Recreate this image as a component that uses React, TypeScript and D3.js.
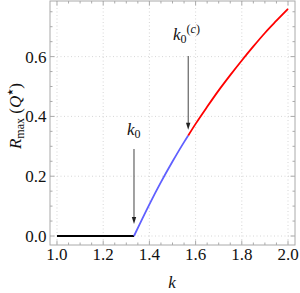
import React from 'react';
import * as d3 from 'd3';

// R_max(Q*)
const kFlat = [1.0, 1.3333];
const rFlat = [0, 0];
const kBlue = [1.3333, 1.4, 1.45, 1.5, 1.55, 1.568];
const rBlue = [0, 0.106, 0.18, 0.249, 0.314, 0.336];
const kRed = [1.568, 1.6, 1.65, 1.7, 1.75, 1.8, 1.85, 1.9, 1.95, 2.0];
const rRed = [0.336, 0.375, 0.432, 0.487, 0.538, 0.587, 0.634, 0.679, 0.72, 0.76];

const xTicks = [1.0, 1.2, 1.4, 1.6, 1.8, 2.0];
const yTicks = [0.0, 0.2, 0.4, 0.6];
const k0 = 1.3333;
const k0c = 1.568;

const W = 300;
const H = 293;
const frame = { left: 50, right: 295, top: 1, bottom: 245 };
const SERIF = 'Liberation Serif';

const zip = (xs: number[], ys: number[]) => xs.map((x, i) => [x, ys[i]] as [number, number]);

export default function App() {
  const x = d3.scaleLinear().domain([0.9697, 2.0303]).range([frame.left, frame.right]);
  const y = d3.scaleLinear().domain([-0.0301, 0.786]).range([frame.bottom, frame.top]);

  const line = d3
    .line<[number, number]>()
    .x((d) => x(d[0]))
    .y((d) => y(d[1]))
    .curve(d3.curveMonotoneX);

  const xMinor = d3.range(0.95, 2.051, 0.05).filter((v) => v >= 0.9697 && v <= 2.0303);
  const yMinor = d3.range(0, 0.7851, 0.05);

  const arrow = (kx: number, from: number, to: number, key: string) => {
    const px = x(kx);
    const y0 = y(from);
    const y1 = y(to);
    return (
      <g key={key}>
        <line x1={px} x2={px} y1={y0} y2={y1 - 5} stroke="#444" strokeWidth={1} />
        <path d={`M${px - 2.2},${y1 - 7} L${px + 2.2},${y1 - 7} L${px},${y1} Z`} fill="#222" />
      </g>
    );
  };

  return (
    <svg
      width={W}
      height={H}
      fontFamily={SERIF}
      style={{ position: 'absolute', left: 0, top: 0, background: '#fff' }}
    >
      {/* grid */}
      {xTicks.map((t) => (
        <line key={'gx' + t} x1={x(t)} x2={x(t)} y1={frame.top} y2={frame.bottom}
          stroke="#ccc" strokeWidth={0.8} strokeDasharray="1,2.5" />
      ))}
      {yTicks.map((t) => (
        <line key={'gy' + t} x1={frame.left} x2={frame.right} y1={y(t)} y2={y(t)}
          stroke="#ccc" strokeWidth={0.8} strokeDasharray="1,2.5" />
      ))}

      {/* frame */}
      <rect x={frame.left} y={frame.top} width={frame.right - frame.left}
        height={frame.bottom - frame.top} fill="none" stroke="#aaa" strokeWidth={1} />

      {/* ticks, inward on all sides */}
      {xMinor.map((t) => {
        const major = xTicks.some((m) => Math.abs(m - t) < 1e-6);
        const len = major ? 4.5 : 2.5;
        return (
          <g key={'tx' + t}>
            <line x1={x(t)} x2={x(t)} y1={frame.bottom} y2={frame.bottom - len} stroke="#aaa" />
            <line x1={x(t)} x2={x(t)} y1={frame.top} y2={frame.top + len} stroke="#aaa" />
          </g>
        );
      })}
      {yMinor.map((t) => {
        const major = yTicks.some((m) => Math.abs(m - t) < 1e-6);
        const len = major ? 4.5 : 2.5;
        return (
          <g key={'ty' + t}>
            <line x1={frame.left} x2={frame.left + len} y1={y(t)} y2={y(t)} stroke="#aaa" />
            <line x1={frame.right} x2={frame.right - len} y1={y(t)} y2={y(t)} stroke="#aaa" />
          </g>
        );
      })}

      {/* tick labels */}
      {xTicks.map((t) => (
        <text key={'lx' + t} x={x(t)} y={260} textAnchor="middle" fontSize={17} fill="#111" fontFamily={SERIF}>
          {t.toFixed(1)}
        </text>
      ))}
      {yTicks.map((t) => (
        <text key={'ly' + t} x={46.5} y={y(t) + 6} textAnchor="end" fontSize={17} fill="#111" fontFamily={SERIF}>
          {t.toFixed(1)}
        </text>
      ))}

      {/* curves */}
      <path d={line(zip(kFlat, rFlat)) || ''} fill="none" stroke="#000" strokeWidth={1.8} />
      <path d={line(zip(kBlue, rBlue)) || ''} fill="none" stroke="#6060ff" strokeWidth={1.8} />
      <path d={line(zip(kRed, rRed)) || ''} fill="none" stroke="#ff0000" strokeWidth={1.8} />

      {/* annotations */}
      {arrow(k0, 0.291, 0.04, 'a0')}
      {arrow(k0c, 0.602, 0.355, 'a1')}
      <text x={127} y={135} fontSize={17} fill="#111" fontFamily={SERIF}>
        <tspan fontStyle="italic">k</tspan>
        <tspan fontSize={12} dy={3}>0</tspan>
      </text>
      <text x={173} y={40} fontSize={17} fill="#111" fontFamily={SERIF}>
        <tspan fontStyle="italic">k</tspan>
        <tspan fontSize={12} dy={3}>0</tspan>
        <tspan fontSize={12} dy={-10}>(</tspan>
        <tspan fontSize={12} fontStyle="italic">c</tspan>
        <tspan fontSize={12}>)</tspan>
      </text>

      {/* axis labels */}
      <text x={172} y={288} textAnchor="middle" fontSize={17} fontStyle="italic" fill="#111" fontFamily={SERIF}>k</text>
      <text transform="translate(21,116) rotate(-90)" textAnchor="middle" fontSize={17} fill="#111" fontFamily={SERIF}>
        <tspan fontStyle="italic">R</tspan>
        <tspan fontSize={12} dy={3}>max</tspan>
        <tspan dy={-3}>{'\u00a0('}</tspan>
        <tspan fontStyle="italic">Q</tspan>
        <tspan fontSize={8} dy={-8} fontFamily="DejaVu Sans">{'\u2605'}</tspan>
        <tspan dy={8}>)</tspan>
      </text>
    </svg>
  );
}
